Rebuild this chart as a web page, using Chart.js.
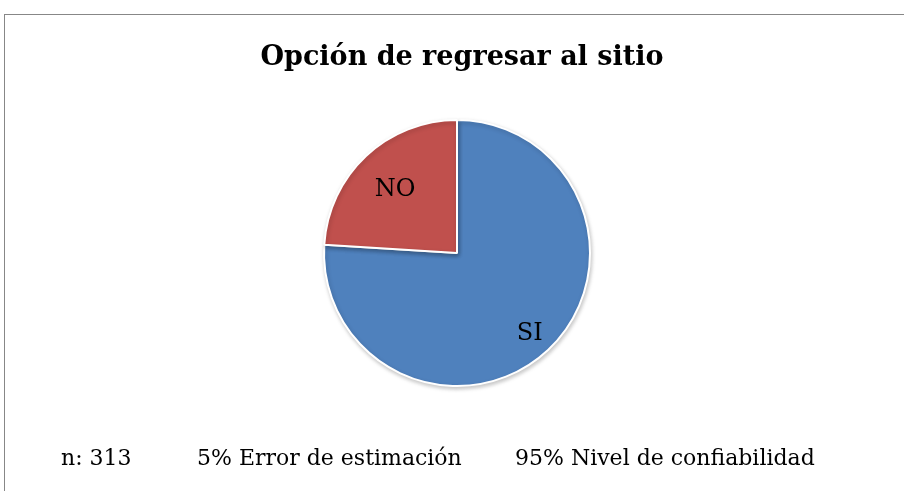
<!DOCTYPE html>
<html>
<head>
<meta charset="utf-8">
<script src="https://cdn.jsdelivr.net/npm/chart.js@4"></script>
<style>
  html, body { margin: 0; padding: 0; background: #fff; overflow: hidden; }
  #frame { position: absolute; left: 4px; top: 14px; width: 1000px; height: 1000px; border: 1px solid #878787; }
  #wrap { position: absolute; left: 0; top: 0; width: 904px; height: 491px; }
</style>
</head>
<body>
<div id="frame"></div>
<div id="wrap"><canvas id="pieChart" width="904" height="491"></canvas></div>
<script>
// Chart data
const chartTitle = 'Opción de regresar al sitio';
const categories = ['SI', 'NO'];
const percentages = [76, 24];
const sliceColors = ['#4F81BD', '#C0504D'];
const footerNotes = ['n: 313', '5% Error de estimación', '95% Nivel de confiabilidad'];

const FONT = '"DejaVu Serif", "Liberation Serif", serif';

// soft shadow under the pie, like the original office chart
const pieShadow = {
  id: 'pieShadow',
  beforeDatasetDraw(chart) {
    const ctx = chart.ctx;
    ctx.save();
    ctx.shadowColor = 'rgba(0,0,0,0.22)';
    ctx.shadowBlur = 4;
    ctx.shadowOffsetX = 1;
    ctx.shadowOffsetY = 2;
  },
  afterDatasetDraw(chart) {
    chart.ctx.restore();
  }
};

// slice labels, title and footer text
const textPlugin = {
  id: 'textPlugin',
  afterDraw(chart) {
    const ctx = chart.ctx;
    ctx.save();
    ctx.fillStyle = '#000';

    // slice labels
    ctx.font = '24px ' + FONT;
    ctx.textAlign = 'center';
    ctx.textBaseline = 'middle';
    const meta = chart.getDatasetMeta(0);
    meta.data.forEach((arc, i) => {
      const p = arc.getProps(['x', 'y', 'startAngle', 'endAngle', 'outerRadius'], true);
      const mid = (p.startAngle + p.endAngle) / 2;
      const r = p.outerRadius * (i === 0 ? 0.8 : 0.68);
      ctx.fillText(categories[i], p.x + Math.cos(mid) * r, p.y + Math.sin(mid) * r + 3);
    });

    // title
    ctx.font = 'bold 27px ' + FONT;
    ctx.textBaseline = 'alphabetic';
    ctx.fillText(chartTitle, 462, 65);

    // footer
    ctx.font = '22px ' + FONT;
    ctx.textAlign = 'left';
    const xs = [61, 197, 515];
    footerNotes.forEach((t, i) => ctx.fillText(t, xs[i], 465));
    ctx.restore();
  }
};

new Chart(document.getElementById('pieChart'), {
  type: 'pie',
  data: {
    labels: categories,
    datasets: [{
      data: percentages,
      backgroundColor: sliceColors,
      borderColor: '#fff',
      borderWidth: 2
    }]
  },
  options: {
    responsive: false,
    animation: false,
    layout: { padding: { left: 323, right: 313, top: 119, bottom: 104 } },
    plugins: {
      legend: { display: false },
      title: { display: false },
      tooltip: { enabled: false }
    }
  },
  plugins: [pieShadow, textPlugin]
});
</script>
</body>
</html>
